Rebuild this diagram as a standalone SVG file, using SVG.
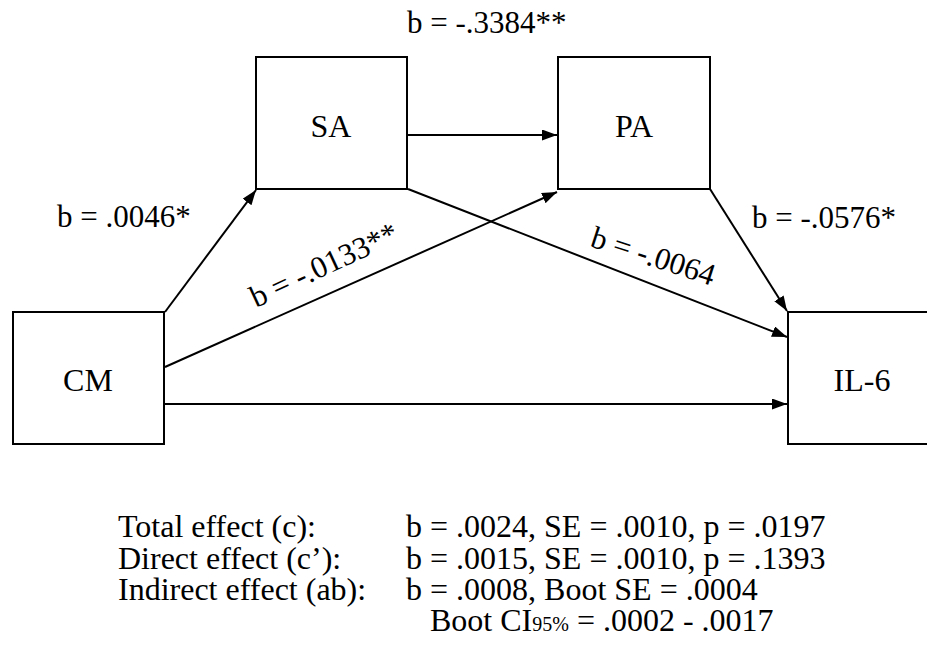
<svg xmlns="http://www.w3.org/2000/svg" width="927" height="663" viewBox="0 0 927 663">
<style>
.box{fill:#fff;stroke:#000;stroke-width:2}
.lbl{font-family:"Liberation Serif","Times New Roman",serif;font-size:31px;fill:#000}
.name{font-family:"Liberation Serif","Times New Roman",serif;font-size:32px;fill:#000;text-anchor:middle}
.bt{font-family:"Liberation Serif","Times New Roman",serif;font-size:32px;fill:#000}
.con{stroke:#000;stroke-width:2;fill:none;marker-end:url(#ah)}
</style>
<defs>
<marker id="ah" markerUnits="userSpaceOnUse" markerWidth="16" markerHeight="12" refX="15" refY="5.5" orient="auto">
<path d="M0,0 L15,5.5 L0,11 z" fill="#000"/>
</marker>
</defs>
<rect width="927" height="663" fill="#fff"/>
<g id="connectors">
<line class="con" x1="165" y1="312" x2="256" y2="190"/>
<line class="con" x1="407" y1="135" x2="557" y2="135"/>
<line class="con" x1="165" y1="367" x2="557" y2="192"/>
<line class="con" x1="408" y1="189" x2="787" y2="337"/>
<line class="con" x1="710" y1="189" x2="787" y2="311"/>
<line class="con" x1="165" y1="404" x2="787" y2="404"/>
</g>
<g id="SA"><rect class="box" x="256" y="57" width="151" height="132"/><text class="name" x="331" y="137">SA</text></g>
<g id="PA"><rect class="box" x="558" y="57" width="152" height="132"/><text class="name" x="634" y="137">PA</text></g>
<g id="CM"><rect class="box" x="13" y="312" width="151" height="132"/><text class="name" x="88" y="391">CM</text></g>
<g id="IL6"><rect class="box" x="788" y="312" width="151" height="132"/><text class="name" x="862" y="391">IL-6</text></g>
<g id="labels">
<text class="lbl" x="407" y="33">b = -.3384**</text>
<text class="lbl" x="57" y="227">b = .0046*</text>
<text class="lbl" x="752" y="228">b = -.0576*</text>
<text class="lbl" transform="translate(256,308) rotate(-25)">b = -.0133**</text>
<text class="lbl" transform="translate(589,246) rotate(18)">b = -.0064</text>
</g>
<g id="summary">
<text class="bt" x="118" y="537">Total effect (c):</text>
<text class="bt" x="406" y="537">b = .0024, SE = .0010, p = .0197</text>
<text class="bt" x="118" y="569">Direct effect (c’):</text>
<text class="bt" x="406" y="569">b = .0015, SE = .0010, p = .1393</text>
<text class="bt" x="118" y="600">Indirect effect (ab):</text>
<text class="bt" x="406" y="600">b = .0008, Boot SE = .0004</text>
<text class="bt" x="430" y="631">Boot CI<tspan font-size="20">95%</tspan> = .0002 - .0017</text>
</g>
</svg>
